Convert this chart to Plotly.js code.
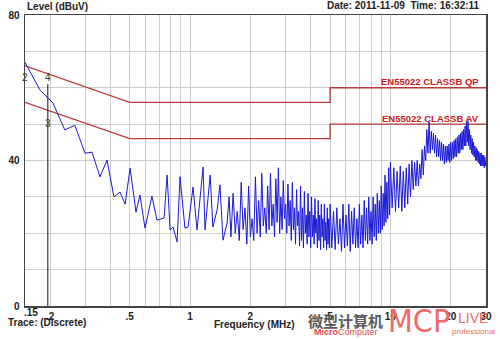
<!DOCTYPE html>
<html>
<head>
<meta charset="utf-8">
<script src="https://cdn.plot.ly/plotly-3.0.1.min.js"></script>
<style>html,body{margin:0;padding:0;background:#fff;}#chart{width:500px;height:339px;}</style>
</head>
<body>
<div id="chart"></div>
<script>
// ---- measured trace (MHz, dBuV) ----
const freqLow = [
 0.150,0.178,0.207,0.237,0.266,0.299,0.324,0.355,0.385,0.417,
 0.447,0.474,0.502,0.537,0.562,0.596,0.645,0.684,0.742,0.768,
 0.795,0.823,0.861,0.891,0.943,0.977,1.035,1.083,1.161,1.188,
 1.26,1.30,1.365,1.41,1.46,1.53,1.566];
const levelLow = [
 67,59.4,55.8,48.4,49.7,42,42.3,35.5,40.1,30,
 31.3,28,37.9,25.8,30.5,21.4,30.2,23.6,24.2,36,
 20.9,21.7,17.6,35.5,21.4,21.7,32.7,20.9,38.2,20.9,
 36,21.7,26.4,33.3,18.1,22.8,30];
const freqMid = [
 1.60,1.64,1.68,1.72,1.76,1.80,1.84,1.88,1.92,1.96,
 2.00,2.04,2.08,2.12,2.16,2.20,2.24,2.28,2.32,2.36,
 2.40,2.44,2.48,2.52,2.56,2.60,2.64,2.68,2.72,2.76,
 2.80,2.84,2.88,2.92,2.96,3.00,3.04,3.08,3.12,3.16,
 3.20,3.24,3.28,3.32,3.36,3.40,3.44,3.48,3.52,3.56,
 3.60,3.64,3.68,3.72,3.76,3.80,3.84,3.88,3.92,3.96,
 4.00,4.04,4.08,4.12,4.16,4.20,4.24,4.28,4.32,4.36,
 4.40,4.44,4.48,4.52,4.56,4.60,4.64,4.68,4.72,4.76,
 4.80,4.84,4.88,4.92,4.96];
const levelMid = [
 19,31,20,26,18,34,21,27,17,33,
 19,24,18,35.5,20,29,19,36.5,22,27,
 20,33,21,36.5,22,28,19,35,23,38,
 20,30,21,34.5,24,28,20,33.5,22,29,
 18,34,21,27,17,32,22,26,16.5,33,
 18,27,16,31.5,20,25,17,31,19,26,
 16,30,19,25,17,29.5,20,24,16,29,
 18,25,15.5,28,19,24,16,28,18,23,
 15.5,27,17,24,16];
const freqHigh = [
 5.0,5.1,5.2,5.3,5.4,5.5,5.6,5.7,5.8,5.9,
 6.0,6.1,6.2,6.3,6.4,6.5,6.6,6.7,6.8,6.9,
 7.0,7.1,7.2,7.3,7.4,7.5,7.6,7.7,7.8,7.9,
 8.0,8.1,8.2,8.3,8.4,8.5,8.6,8.7,8.8,8.9,
 9.0,9.1,9.2,9.3,9.4,9.5,9.6,9.7,9.8,9.9,
 10.0];
const levelHigh = [
 28,16,26,15.5,27,17,24,15,28,16,
 25,16.5,28,15,26,17,27,16,24,16,
 28,17,25,16,29,18,27,17,30,18,
 26,17,30,19,28,18,31,20,29,20,
 33,21,31,22,36,23,34,24,38,25,
 39.5];
const freqTop = [
 10.2,10.4,10.6,10.8,11.0,11.2,11.4,11.6,11.8,12.0,
 12.2,12.4,12.6,12.8,13.0,13.2,13.4,13.6,13.8,14.0,
 14.2,14.4,14.6,14.8,15.0,15.2,15.4,15.6,15.8,16.0,
 16.2,16.4,16.6,16.8,17.0,17.2,17.4,17.6,17.8,18.0,
 18.2,18.4,18.6,18.8,19.0,19.2,19.4,19.6,19.8,20.0,
 20.2,20.4,20.6,20.8,21.0,21.2,21.4,21.6,21.8,22.0,
 22.2,22.4,22.6,22.8,23.0,23.2,23.4,23.6,23.8,24.0,
 24.2,24.4,24.6,24.8,25.0,25.2,25.4,25.6,25.8,26.0,
 26.2,26.4,26.6,26.8,27.0,27.2,27.4,27.6,27.8,28.0,
 28.2,28.4,28.6,28.8,29.0,29.2,29.4,29.6,29.8,30.0];
const levelTop = [
 27,38,26,37,27,38.5,26,37,27,38,
 28,39,30,40,32,39.5,33,40,33,39,
 35,43,36,44,40,48.5,42,50.6,42,48,
 43,47.5,42,47,41,46,41,45.5,40,45,
 40,44.5,39,44,39.5,44,40,44.5,39.5,45,
 40,45,40.5,45.5,41,46,41,46.5,42,47,
 42,47.5,43,48,43,48.5,44,49.5,44,50.5,
 45,51,44,48.5,43,47,42,46,41.5,45,
 41,44,40,43.5,40,43,39.5,42.5,39,42,
 38.5,42,38.5,41.5,38.5,41.5,38,41,38.5,40];

// ---- limit lines ----
const limitFreq = [0.15, 0.5, 5, 5, 30];
const limitQP = [66, 56, 56, 60, 60];
const limitAV = [56, 46, 46, 50, 50];
const limitQPLabel = "EN55022 CLASSB QP";
const limitAVLabel = "EN55022 CLASSB AV";

// ---- marker ----
const markerFreq = [0.195, 0.195];
const markerLevel = [0, 61];
const markerLabels = ["2", "4", "3"];
const markerLabelFreq = [0.15, 0.195, 0.195];
const markerLabelLevel = [62.7, 62.7, 50.3];

// ---- axes ----
const xTickVals = [0.15,0.2,0.3,0.4,0.5,0.6,0.7,0.8,0.9,1,2,3,4,5,6,7,8,9,10,20,30];
const xTickText = ["",".2","","",".5","","","","","1","2","","","5","","","","","10","20","30"];
const yTickVals = [0,10,20,30,40,50,60,70,80];
const yTickText = ["0","","","","40","","","","80"];

const FONT = "Liberation Sans, Arial, sans-serif";
const NARROW = "Liberation Sans Narrow, DejaVu Sans Condensed, Liberation Sans, sans-serif";
const freqAll = freqLow.concat(freqMid, freqHigh, freqTop);
const levelAll = levelLow.concat(levelMid, levelHigh, levelTop);

const traces = [
  {x: limitFreq, y: limitQP, mode: "lines", line: {color: "#b83a3a", width: 1.3}, hoverinfo: "skip"},
  {x: limitFreq, y: limitAV, mode: "lines", line: {color: "#b83a3a", width: 1.3}, hoverinfo: "skip"},
  {x: freqAll, y: levelAll, mode: "lines", line: {color: "#1a1ad6", width: 1}, hoverinfo: "skip"},
  {x: markerFreq, y: markerLevel, mode: "lines", line: {color: "#111", width: 1}, hoverinfo: "skip"}
];

const ann = [];
function txt(t, x, y, xa, ya, size, color, bold, extra, family) {
  const a = {text: t, x: x, y: y, xref: "paper", yref: "paper", xanchor: xa, yanchor: ya,
    showarrow: false, font: {family: family || FONT, size: size, color: color, weight: bold ? "bold" : "normal"}};
  return Object.assign(a, extra || {});
}
ann.push(txt("Level (dBuV)", 0, 1.029, "left", "middle", 10, "#222", true));
ann.push(txt("Date: 2011-11-09  Time: 16:32:11", 0.991, 1.031, "right", "middle", 10, "#222", true));
ann.push(txt(".15", 0.013, -0.024, "center", "middle", 10, "#222", true));
ann.push(txt("Frequency (MHz)", 0.497, -0.065, "center", "middle", 10, "#222", true));
ann.push(txt("Trace: (Discrete)", -0.041, -0.058, "left", "middle", 10, "#222", true));
ann.push(txt(limitQPLabel, 0.989, 61.7, "right", "middle", 9.5, "#c81818", true, {yref: "y"}));
ann.push(txt(limitAVLabel, 0.989, 51.5, "right", "middle", 9.5, "#c81818", true, {yref: "y"}));
for (let i = 0; i < markerLabels.length; i++) {
  ann.push(txt(markerLabels[i], Math.log10(markerLabelFreq[i]), markerLabelLevel[i], "center", "middle", 10, "#333", false, {xref: "x", yref: "y"}));
}
// watermark
ann.push(txt("微型计算机", 0.696, -0.050, "center", "middle", 15, "#5a5a5a", true, null, "Noto Sans CJK SC"));
ann.push(txt("<b>Micro</b>Computer", 0.696, -0.088, "center", "middle", 9, "#e04a4a", false));
ann.push(txt("MCP", 0.855, -0.053, "center", "middle", 32, "#ef6a6a", false, null, NARROW));
ann.push(txt("LIVE", 0.972, -0.040, "center", "middle", 14, "#ef6a6a", false));
ann.push(txt("professional", 0.972, -0.086, "center", "middle", 8, "#ef6a6a", false));

const layout = {
  width: 500, height: 339,
  margin: {l: 25, r: 14, t: 15, b: 33, pad: 0},
  paper_bgcolor: "#fff", plot_bgcolor: "#fff",
  showlegend: false,
  font: {family: FONT, size: 10, color: "#222"},
  xaxis: {
    type: "log", range: [Math.log10(0.15), Math.log10(30)],
    tickmode: "array", tickvals: xTickVals, ticktext: xTickText,
    ticks: "", showgrid: true, gridcolor: "#cdcdcd", gridwidth: 1,
    showline: true, mirror: true, linecolor: "#444", linewidth: 1.5,
    tickfont: {family: FONT, size: 10, color: "#222", weight: "bold"},
    ticklabelstandoff: 0, zeroline: false, fixedrange: true
  },
  yaxis: {
    range: [0, 80], tickmode: "array", tickvals: yTickVals, ticktext: yTickText,
    ticks: "", showgrid: true, gridcolor: "#cdcdcd", gridwidth: 1,
    showline: true, mirror: true, linecolor: "#444", linewidth: 1.5,
    tickfont: {family: FONT, size: 10, color: "#222", weight: "bold"},
    ticklabelstandoff: 2, zeroline: false, fixedrange: true
  },
  annotations: ann
};
Plotly.newPlot("chart", traces, layout, {staticPlot: true, displayModeBar: false});
</script>
</body>
</html>
